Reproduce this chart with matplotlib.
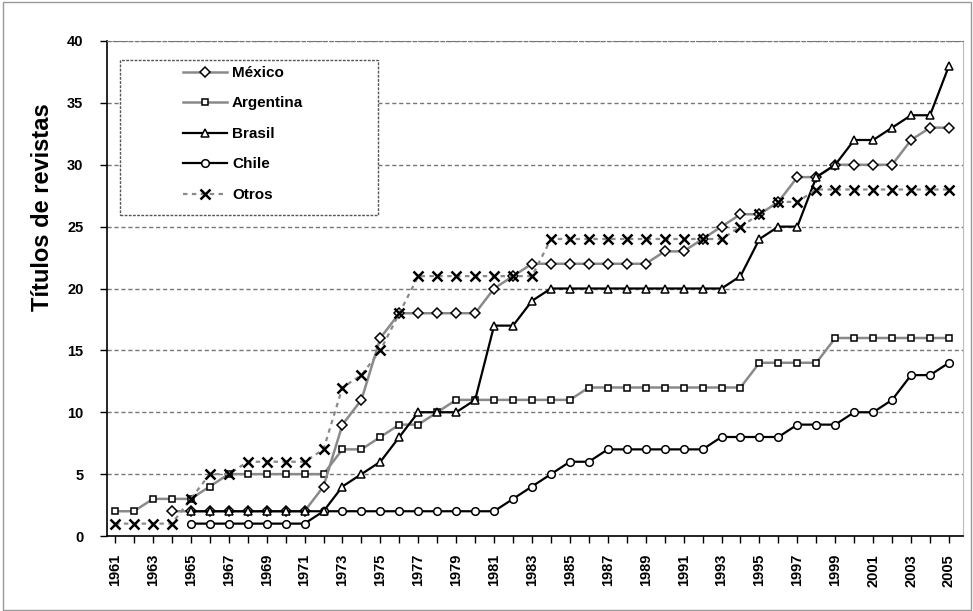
import matplotlib
matplotlib.use("Agg")
import matplotlib.pyplot as plt
import numpy as np
from matplotlib.patches import Rectangle
from matplotlib.ticker import MultipleLocator

plt.rcParams['font.family'] = ['Liberation Sans', 'DejaVu Sans']

years = list(range(1961, 2006))
N = None
mexico = [N, N, N, 2, 2, 2, 2, 2, 2, 2, 2, 4, 9, 11, 16, 18, 18, 18, 18, 18,
          20, 21, 22, 22, 22, 22, 22, 22, 22, 23, 23, 24, 25, 26, 26, 27, 29, 29,
          30, 30, 30, 30, 32, 33, 33]
argentina = [2, 2, 3, 3, 3, 4, 5, 5, 5, 5, 5, 5, 7, 7, 8, 9, 9, 10, 11, 11,
             11, 11, 11, 11, 11, 12, 12, 12, 12, 12, 12, 12, 12, 12, 14, 14, 14, 14,
             16, 16, 16, 16, 16, 16, 16]
brasil = [N, N, N, N, 2, 2, 2, 2, 2, 2, 2, 2, 4, 5, 6, 8, 10, 10, 10, 11,
          17, 17, 19, 20, 20, 20, 20, 20, 20, 20, 20, 20, 20, 21, 24, 25, 25, 29,
          30, 32, 32, 33, 34, 34, 38]
chile = [N, N, N, N, 1, 1, 1, 1, 1, 1, 1, 2, 2, 2, 2, 2, 2, 2, 2, 2,
         2, 3, 4, 5, 6, 6, 7, 7, 7, 7, 7, 7, 8, 8, 8, 8, 9, 9,
         9, 10, 10, 11, 13, 13, 14]
otros = [1, 1, 1, 1, 3, 5, 5, 6, 6, 6, 6, 7, 12, 13, 15, 18, 21, 21, 21, 21,
         21, 21, 21, 24, 24, 24, 24, 24, 24, 24, 24, 24, 24, 25, 26, 27, 27, 28,
         28, 28, 28, 28, 28, 28, 28]
labels = ["México", "Argentina", "Brasil", "Chile", "Otros"]
ylabel = "Títulos de revistas"


def arr(v):
    return np.array([np.nan if x is None else x for x in v], dtype=float)


fig = plt.figure(figsize=(9.73, 6.11), dpi=100)
ax = fig.add_axes([107/973, 1-536/611, (963-107)/973, (536-41)/611])

x = np.array(years)
gray = "#8a8a8a"
common = dict(markerfacecolor="white", markeredgecolor="black", markeredgewidth=1.1)
l1, = ax.plot(x, arr(mexico), color=gray, lw=1.8, marker="D", ms=5, label=labels[0], zorder=4, **common)
l2, = ax.plot(x, arr(argentina), color=gray, lw=1.8, marker="s", ms=5, label=labels[1], zorder=3, **common)
l3, = ax.plot(x, arr(brasil), color="black", lw=1.6, marker="^", ms=6, label=labels[2], zorder=5, **common)
l4, = ax.plot(x, arr(chile), color="black", lw=1.6, marker="o", ms=5.5, label=labels[3], zorder=3, **common)
l5, = ax.plot(x, arr(otros), color=gray, lw=1.6, ls=(0, (2, 2)), marker="x", ms=7,
              markeredgecolor="black", markeredgewidth=1.8, label=labels[4], zorder=6)

ax.set_xlim(1961 - 8/18.95, 2005 + 14/18.95)
ax.set_ylim(0, 40)
ax.yaxis.set_major_locator(MultipleLocator(5))
ax.set_xticks(years)
ax.set_xticklabels([str(y) if (y - 1961) % 2 == 0 else "" for y in years],
                   rotation=90, fontweight="bold", fontsize=10.5)
for t in ax.get_yticklabels():
    t.set_fontweight("bold")
    t.set_fontsize(10.5)
ax.tick_params(axis="x", direction="out", length=5, width=1, pad=8)
ax.tick_params(axis="y", direction="out", length=5, width=1, pad=12)

ax.grid(axis="y", color="#777777", ls=(0, (3, 2)), lw=1)
ax.set_axisbelow(True)
ax.spines["top"].set_color("#777777")
ax.spines["top"].set_linestyle((0, (3, 2)))
ax.spines["right"].set_color("#bbbbbb")
ax.spines["left"].set_color("black")
ax.spines["bottom"].set_color("black")
ax.spines["left"].set_linewidth(1.2)
ax.spines["bottom"].set_linewidth(1.2)

ax.set_ylabel(ylabel, fontsize=17, fontweight="bold")
ax.yaxis.set_label_coords(-0.062, 0.665)

# legend box
ax.add_patch(Rectangle(((120-107)/856, 1-(215-41)/495), (378-120)/856, (215-60)/495,
                       transform=ax.transAxes, fill=True, facecolor="white",
                       edgecolor="#555555", ls=(0, (2, 1)), lw=1, zorder=7))
leg = ax.legend(handles=[l1, l2, l3, l4, l5], loc="upper left",
                bbox_to_anchor=((183-107)/856, 1-(66-41)/495), frameon=False,
                prop=dict(weight="bold", size=11), handlelength=2.9,
                handletextpad=0.3, labelspacing=1.08, borderpad=0, borderaxespad=0)
leg.set_zorder(8)

fig.patches.append(Rectangle((3/973, 0.002), 0.995, 0.994, transform=fig.transFigure,
                             fill=False, edgecolor="#999999", lw=1))

fig.savefig("out.png", dpi=100)
